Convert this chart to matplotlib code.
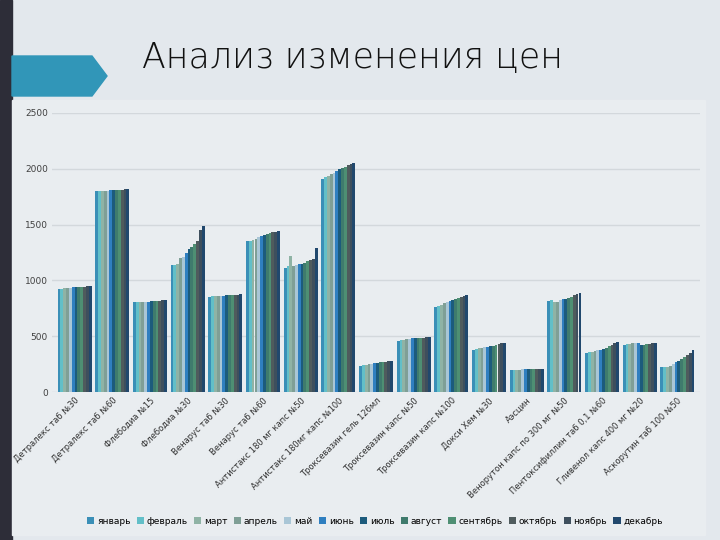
import matplotlib.pyplot as plt
import matplotlib.patches as mpatches
import numpy as np

# Препараты
categories = [
    'Детралекс таб №30', 'Детралекс таб №60', 'Флебодиа №15', 'Флебодиа №30',
    'Венарус таб №30', 'Венарус таб №60', 'Антистакс 180 мг капс №50',
    'Антистакс 180мг капс №100', 'Троксевазин гель 126мл', 'Троксевазин капс №50',
    'Троксевазин капс №100', 'Докси Хем №30', 'Аэсцин',
    'Венорутон капс по 300 мг №50', 'Пентоксифиллин таб 0,1 №60',
    'Гливенол капс 400 мг №20', 'Аскорутин таб 100 №50',
]

months = ['январь', 'февраль', 'март', 'апрель', 'май', 'июнь',
          'июль', 'август', 'сентябрь', 'октябрь', 'ноябрь', 'декабрь']

# Цены по месяцам для каждого препарата
prices = [
    [925, 925, 928, 930, 935, 940, 940, 945, 945, 945, 948, 948],
    [1805, 1805, 1805, 1805, 1805, 1808, 1808, 1808, 1808, 1810, 1815, 1815],
    [805, 808, 808, 810, 810, 810, 812, 812, 815, 818, 820, 820],
    [1140, 1140, 1150, 1200, 1210, 1250, 1280, 1300, 1330, 1350, 1450, 1490],
    [855, 856, 858, 860, 862, 862, 865, 866, 868, 870, 872, 875],
    [1350, 1355, 1360, 1375, 1390, 1400, 1410, 1420, 1425, 1430, 1435, 1445],
    [1115, 1125, 1220, 1130, 1140, 1145, 1150, 1160, 1170, 1180, 1190, 1290],
    [1910, 1925, 1935, 1950, 1960, 1980, 2000, 2010, 2020, 2030, 2040, 2055],
    [235, 240, 245, 250, 255, 260, 262, 265, 270, 272, 275, 280],
    [460, 465, 470, 475, 478, 480, 482, 485, 487, 488, 490, 490],
    [760, 770, 780, 800, 805, 815, 825, 835, 840, 850, 860, 865],
    [378, 385, 390, 395, 400, 405, 410, 415, 420, 430, 440, 440],
    [200, 200, 200, 200, 205, 205, 205, 205, 205, 205, 205, 205],
    [815, 820, 805, 810, 820, 830, 835, 845, 855, 865, 875, 890],
    [352, 355, 360, 370, 375, 380, 385, 395, 410, 425, 440, 448],
    [425, 428, 430, 435, 438, 442, 420, 425, 430, 432, 435, 438],
    [225, 225, 228, 235, 250, 265, 280, 300, 315, 335, 350, 376],
]

colors = ['#3a8fb7', '#62bfc8', '#8fb3a5', '#7f9f96', '#a9c6d6', '#2f7fc0',
          '#1c5b7c', '#3f7b6d', '#4e8f73', '#4f5b5d', '#3e4f5d', '#21486d']

data = np.array(prices)
n_cat, n_m = data.shape

fig = plt.figure(figsize=(7.2, 5.4), dpi=100)
fig.patch.set_facecolor('#e3e8ed')

# фон слайда: тёмная полоса слева, светлая панель, стрелка
fig.patches.append(mpatches.Rectangle((0, 0), 12 / 720, 1, transform=fig.transFigure,
                                      color='#2d2d38', zorder=-2))
fig.patches.append(mpatches.Rectangle((12 / 720, 5 / 540), 693 / 720, 435 / 540,
                                      transform=fig.transFigure, color='#e9edf0', zorder=-2))
arrow = [(12, 56), (92, 56), (107, 76), (92, 96), (12, 96)]
fig.patches.append(mpatches.Polygon([(x / 720, 1 - y / 540) for x, y in arrow],
                                    closed=True, transform=fig.transFigure,
                                    color='#3196b8', zorder=-1))
fig.text(352 / 720, 1 - 58 / 540, 'Анализ изменения цен', fontsize=25,
         fontweight='light', color='#111111', ha='center', va='center')

ax = fig.add_axes([52 / 720, 1 - 392 / 540, 648 / 720, 279 / 540])
ax.set_facecolor('none')
ax.set_zorder(2)

x = np.arange(n_cat)
group_w = 0.9
bw = group_w / n_m
for j in range(n_m):
    ax.bar(x - group_w / 2 + bw * (j + 0.5), data[:, j], width=bw,
           color=colors[j], label=months[j], zorder=3)

ax.set_ylim(0, 2500)
ax.set_xlim(-0.6, n_cat - 0.4)
ax.set_yticks(range(0, 2501, 500))
ax.yaxis.grid(True, color='#d3d8dc', linewidth=1, zorder=0)
for s in ax.spines.values():
    s.set_visible(False)
ax.tick_params(axis='y', length=0, labelsize=6.5, labelcolor='#404040', pad=3)
ax.tick_params(axis='x', length=0, pad=3)
ax.set_xticks(x)
ax.set_xticklabels(categories, rotation=45, ha='right', rotation_mode='anchor',
                   fontsize=6, color='#303030')

leg = fig.legend(loc='center', bbox_to_anchor=(375 / 720, 1 - 521 / 540), ncol=12,
                 frameon=False, fontsize=6.5, handlelength=0.8, handleheight=0.8,
                 handletextpad=0.3, columnspacing=0.7)

plt.savefig('out.png', dpi=100)
